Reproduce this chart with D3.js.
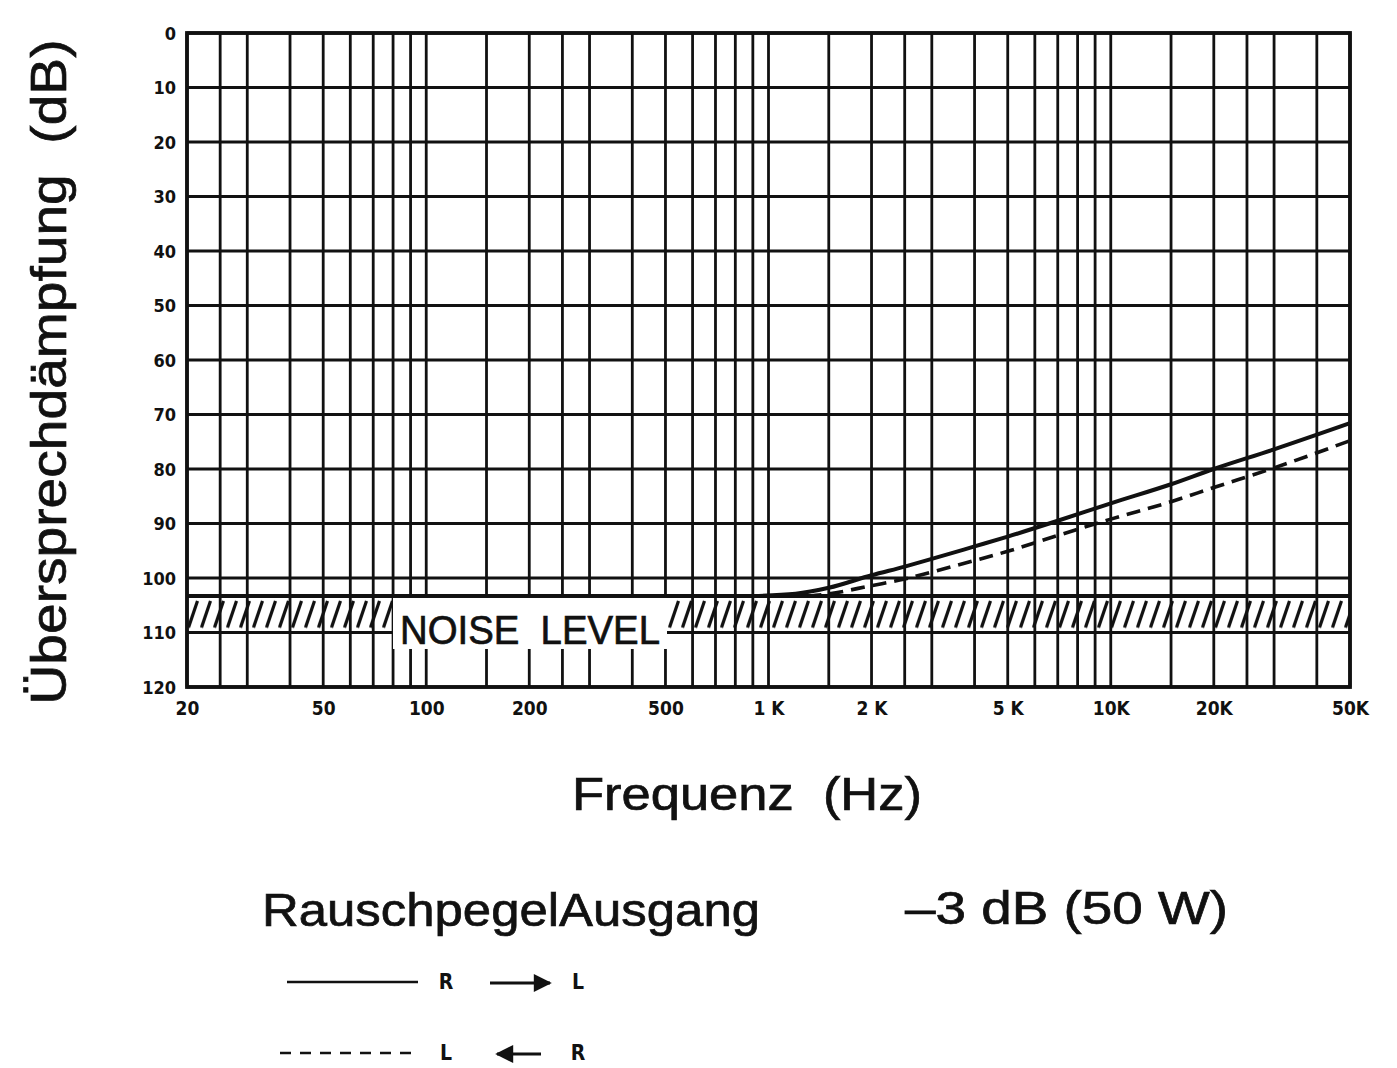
<!DOCTYPE html>
<html>
<head>
<meta charset="utf-8">
<script src="https://cdn.jsdelivr.net/npm/d3@7"></script>
<style>
  body { margin: 0; background: #fff; }
  svg { display: block; }
  .tick-label { font-family: "Liberation Sans Narrow", "DejaVu Sans Condensed", "Liberation Sans", Arial, sans-serif; font-weight: bold; fill: #111; }
  .title { font-family: "Liberation Sans", Arial, sans-serif; fill: #111; stroke: #111; stroke-width: 0.7px; }
</style>
</head>
<body>
<svg width="1397" height="1068"></svg>
<script>
(function (d3) {
  'use strict';

  // grid of the log paper (Hz) and level lines (dB)
  const gridFreqs = [20, 25, 30, 40, 50, 60, 70, 80, 90,
    100, 150, 200, 250, 300, 400, 500, 600, 700, 800, 900,
    1000, 1500, 2000, 2500, 3000, 4000, 5000, 6000, 7000, 8000, 9000,
    10000, 15000, 20000, 25000, 30000, 40000, 50000];
  const dbTicks = [0, 10, 20, 30, 40, 50, 60, 70, 80, 90, 100, 110, 120];

  const freqTicks = [20, 50, 100, 200, 500, 1000, 2000, 5000, 10000, 20000, 50000];
  const freqTickLabels = ['20', '50', '100', '200', '500', '1 K', '2 K', '5 K', '10K', '20K', '50K'];

  // noise level band (dB)
  const noiseTop = 103.3;
  const noiseBottom = 110;

  // R -> L (solid)
  const freqRL = [900, 1200, 1500, 2000, 2500, 3000, 4000, 5000, 7000, 10000, 15000, 20000, 30000, 50000];
  const dbRL = [103.3, 102.9, 101.8, 99.5, 97.9, 96.5, 94.2, 92.4, 89.5, 86.3, 82.8, 80.0, 76.4, 71.6];

  // L -> R (dashed)
  const freqLR = [1300, 1500, 2000, 2500, 3000, 4000, 5000, 7000, 10000, 15000, 20000, 30000, 50000];
  const dbLR = [103.3, 102.9, 101.4, 100.2, 98.9, 96.8, 95.1, 92.2, 89.2, 86.0, 83.4, 79.8, 74.8];

  const svg = d3.select('svg');
  const ink = '#111';

  const x = d3.scaleLog().domain([20, 50000]).range([187, 1350]);
  const y = d3.scaleLinear().domain([0, 120]).range([33, 687]);

  const plot = svg.append('g');

  // vertical grid
  plot.selectAll('line.vgrid').data(gridFreqs)
    .enter().append('line')
      .attr('class', 'vgrid')
      .attr('x1', d => x(d)).attr('x2', d => x(d))
      .attr('y1', y(0)).attr('y2', y(120))
      .attr('stroke', ink)
      .attr('stroke-width', 2.8);

  // horizontal grid
  plot.selectAll('line.hgrid').data(dbTicks)
    .enter().append('line')
      .attr('class', 'hgrid')
      .attr('x1', x(20)).attr('x2', x(50000))
      .attr('y1', d => y(d)).attr('y2', d => y(d))
      .attr('stroke', ink)
      .attr('stroke-width', 2.8);

  // hatched noise band
  const defs = svg.append('defs');
  const bandH = y(noiseBottom) - y(noiseTop);
  const pat = defs.append('pattern')
    .attr('id', 'hatch')
    .attr('patternUnits', 'userSpaceOnUse')
    .attr('x', x(20)).attr('y', y(noiseTop))
    .attr('width', 13).attr('height', bandH);
  pat.append('line')
    .attr('x1', 1.5).attr('y1', bandH - 5)
    .attr('x2', 10.5).attr('y2', 5)
    .attr('stroke', ink)
    .attr('stroke-width', 3.2);

  plot.append('rect')
    .attr('x', x(20)).attr('y', y(noiseTop))
    .attr('width', x(50000) - x(20)).attr('height', bandH)
    .attr('fill', 'url(#hatch)');

  plot.append('line')
    .attr('x1', x(20)).attr('x2', x(50000))
    .attr('y1', y(noiseTop)).attr('y2', y(noiseTop))
    .attr('stroke', ink)
    .attr('stroke-width', 3.8);

  // box for the NOISE LEVEL label
  plot.append('rect')
    .attr('x', 393).attr('y', y(noiseTop) + 2)
    .attr('width', 274).attr('height', 51)
    .attr('fill', '#fff');

  plot.append('text')
    .attr('class', 'title')
    .attr('x', 400).attr('y', 644)
    .attr('font-size', 40)
    .attr('textLength', 260)
    .attr('lengthAdjust', 'spacingAndGlyphs')
    .text('NOISE\u00a0\u00a0LEVEL');

  // frame
  plot.append('rect')
    .attr('x', x(20)).attr('y', y(0))
    .attr('width', x(50000) - x(20)).attr('height', y(120) - y(0))
    .attr('fill', 'none')
    .attr('stroke', ink)
    .attr('stroke-width', 3.8);

  // curves
  const line = d3.line()
    .x(d => x(d[0]))
    .y(d => y(d[1]))
    .curve(d3.curveMonotoneX);

  plot.append('path')
    .attr('d', line(d3.zip(freqRL, dbRL)))
    .attr('fill', 'none')
    .attr('stroke', ink)
    .attr('stroke-width', 4);

  plot.append('path')
    .attr('d', line(d3.zip(freqLR, dbLR)))
    .attr('fill', 'none')
    .attr('stroke', ink)
    .attr('stroke-width', 3.6)
    .attr('stroke-dasharray', '14 8');

  // axes labels
  const yAxis = d3.axisLeft(y).tickValues(dbTicks).tickSize(0).tickPadding(11);
  const yAxisG = svg.append('g')
    .attr('transform', `translate(${x(20)},0)`)
    .call(yAxis);
  yAxisG.select('.domain').remove();
  yAxisG.selectAll('text')
    .attr('class', 'tick-label')
    .attr('font-size', 18)
    .attr('dy', '0.35em');

  const xAxis = d3.axisBottom(x)
    .tickValues(freqTicks)
    .tickFormat((d, i) => freqTickLabels[i])
    .tickSize(0).tickPadding(15);
  const xAxisG = svg.append('g')
    .attr('transform', `translate(0,${y(120)})`)
    .call(xAxis);
  xAxisG.select('.domain').remove();
  xAxisG.selectAll('text')
    .attr('class', 'tick-label')
    .attr('font-size', 19);

  // titles
  svg.append('text')
    .attr('class', 'title')
    .attr('transform', 'translate(66,372) rotate(-90)')
    .attr('text-anchor', 'middle')
    .attr('font-size', 50)
    .attr('textLength', 665)
    .attr('lengthAdjust', 'spacingAndGlyphs')
    .text('Übersprechdämpfung\u00a0\u00a0(dB)');

  svg.append('text')
    .attr('class', 'title')
    .attr('x', 572).attr('y', 810)
    .attr('font-size', 47)
    .attr('textLength', 350)
    .attr('lengthAdjust', 'spacingAndGlyphs')
    .text('Frequenz\u00a0\u00a0(Hz)');

  svg.append('text')
    .attr('class', 'title')
    .attr('x', 262).attr('y', 926)
    .attr('font-size', 47)
    .attr('textLength', 498)
    .attr('lengthAdjust', 'spacingAndGlyphs')
    .text('RauschpegelAusgang');

  svg.append('text')
    .attr('class', 'title')
    .attr('x', 905).attr('y', 924)
    .attr('font-size', 47)
    .attr('textLength', 323)
    .attr('lengthAdjust', 'spacingAndGlyphs')
    .text('–3 dB (50 W)');

  // legend
  defs.append('marker')
    .attr('id', 'arrow')
    .attr('viewBox', '0 0 10 10')
    .attr('refX', 9).attr('refY', 5)
    .attr('markerWidth', 8).attr('markerHeight', 6)
    .attr('markerUnits', 'strokeWidth')
    .attr('orient', 'auto')
    .append('path')
      .attr('d', 'M0,0L10,5L0,10z')
      .attr('fill', ink);

  const legendRows = [
    { dash: null, from: 'R', to: 'L', dir: 1, y: 982 },
    { dash: '11 9', from: 'L', to: 'R', dir: -1, y: 1053 }
  ];

  const legend = svg.append('g');
  const rows = legend.selectAll('g').data(legendRows)
    .enter().append('g')
      .attr('transform', d => `translate(0,${d.y})`);

  rows.append('line')
    .attr('x1', (d, i) => i ? 280 : 287).attr('x2', (d, i) => i ? 412 : 418)
    .attr('y1', 0).attr('y2', 0)
    .attr('stroke', ink)
    .attr('stroke-width', 2.6)
    .attr('stroke-dasharray', d => d.dash);

  rows.append('text')
    .attr('class', 'tick-label')
    .attr('x', 446).attr('dy', '0.35em')
    .attr('text-anchor', 'middle')
    .attr('font-size', 21)
    .text(d => d.from);

  rows.append('text')
    .attr('class', 'tick-label')
    .attr('x', 578).attr('dy', '0.35em')
    .attr('text-anchor', 'middle')
    .attr('font-size', 21)
    .text(d => d.to);

  rows.append('line')
    .attr('x1', d => d.dir > 0 ? 490 : 541)
    .attr('x2', d => d.dir > 0 ? 550 : 497)
    .attr('y1', 1).attr('y2', 1)
    .attr('stroke', ink)
    .attr('stroke-width', 3)
    .attr('marker-end', 'url(#arrow)');

}(d3));
</script>
</body>
</html>
